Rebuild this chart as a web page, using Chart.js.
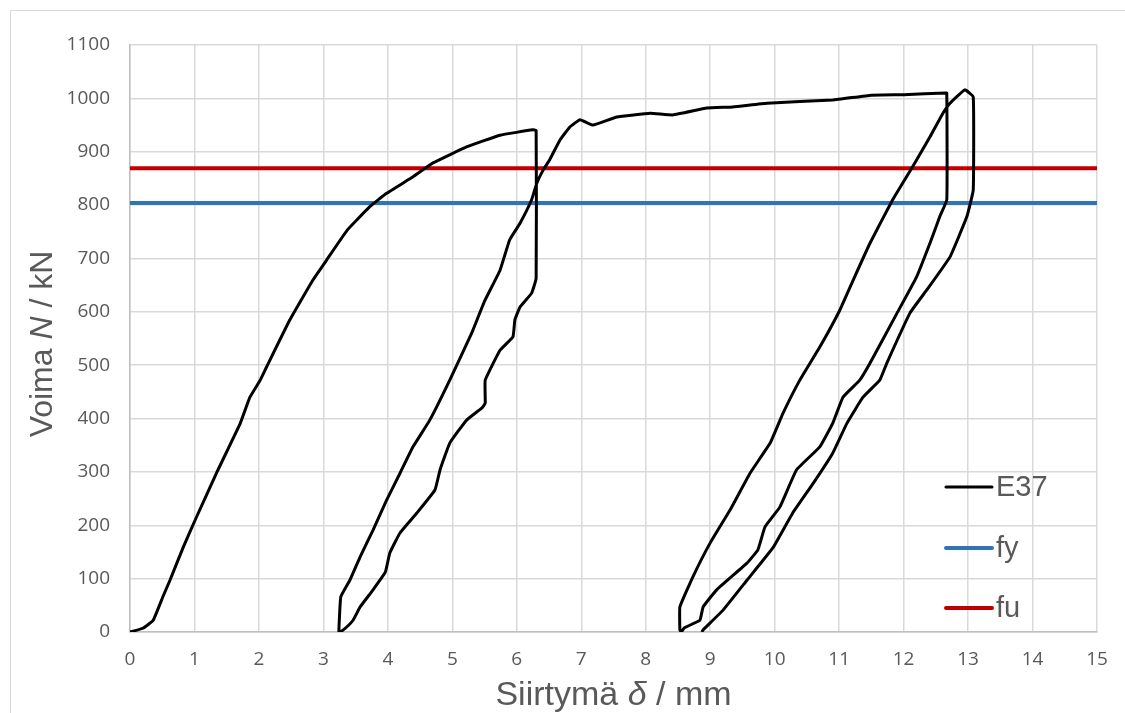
<!DOCTYPE html>
<html>
<head>
<meta charset="utf-8">
<script src="https://cdn.jsdelivr.net/npm/chart.js@4"></script>
<style>
  html, body { margin: 0; padding: 0; background: #fff; }
  #wrap { width: 1125px; height: 713px; }
</style>
</head>
<body>
<div id="wrap"><canvas id="kuvaaja" width="1125" height="713"></canvas></div>
<script>
'use strict';

// E37 koekappaleen voima-siirtymäkäyrä (luettu kuvasta)
const siirtyma = [
  0, 0.2, 0.36, 0.51, 0.62, 0.83, 1.03, 1.35, 1.71, 1.86, 2.02, 2.12, 2.48, 2.84, 3.05, 3.37, 3.72, 3.98, 4.39, 4.70, 5.22, 5.74, 6.25, 6.30,
  6.30, 6.23, 6.05, 5.97, 5.94, 5.74, 5.51, 5.51, 5.46, 5.22, 4.96, 4.81, 4.73, 4.45, 4.19, 4.03, 3.96, 3.77, 3.57, 3.46, 3.34, 3.26,
  3.24, 3.27, 3.41, 3.57, 3.77, 3.98, 4.19, 4.39, 4.65, 4.96, 5.30, 5.50, 5.74, 5.89, 6.05, 6.23, 6.31, 6.41, 6.51, 6.67, 6.82, 6.98, 7.18, 7.55, 8.07, 8.42, 8.95, 9.35, 9.88, 10.9, 11.5, 12.0, 12.65, 12.67,
  12.67, 12.56, 12.41, 12.20, 11.90, 11.48, 11.32, 11.06, 10.90, 10.70, 10.34, 10.08, 9.85, 9.74, 9.57, 9.10, 8.89, 8.84, 8.60, 8.55,
  8.53, 8.53, 8.73, 9.00, 9.31, 9.62, 9.93, 10.13, 10.39, 10.70, 11.01, 11.22, 11.48, 11.83, 12.14, 12.41, 12.61, 12.72, 12.95, 13.08,
  13.08, 12.98, 12.72, 12.36, 12.10, 11.74, 11.63, 11.37, 11.12, 10.90, 10.60, 10.28, 9.98, 9.57, 9.20, 8.89, 8.87
];
const voima = [
  0, 7, 22, 66, 97, 160, 215, 300, 391, 440, 472, 497, 585, 660, 697, 753, 797, 822, 853, 879, 909, 931, 941, 940,
  663, 635, 609, 585, 553, 528, 472, 429, 420, 397, 354, 304, 266, 223, 186, 148, 112, 79, 47, 22, 7, 0,
  0, 66, 97, 141, 191, 247, 298, 347, 397, 472, 560, 620, 678, 735, 766, 810, 841, 866, 885, 922, 946, 960, 950, 965, 972, 969, 982, 984, 991, 997, 1006, 1007, 1010, 1010,
  810, 778, 729, 665, 598, 504, 472, 440, 391, 347, 304, 234, 197, 154, 129, 79, 47, 22, 8, 0,
  4, 47, 103, 167, 229, 298, 354, 410, 472, 534, 603, 660, 729, 810, 872, 928, 972, 991, 1016, 1003,
  828, 778, 703, 641, 598, 504, 472, 440, 391, 335, 279, 223, 159, 97, 41, 4, 0
];

const fy = 804;
const fu = 869;
const xRaja = [0, 15];

const tekstiVari = '#595959';
const ruudukko = '#d9d9d9';

function pisteet(xs, ys) {
  return xs.map((x, i) => ({ x: x, y: ys[i] }));
}

// piirtää tekstin osista, joista osa kursiivilla
function osaTeksti(ctx, osat, koko, keskiX, y) {
  let leveys = 0;
  osat.forEach(o => { ctx.font = o[1] + ' ' + koko + 'px "Liberation Sans", Arial'; leveys += ctx.measureText(o[0]).width; });
  let x = keskiX - leveys / 2;
  osat.forEach(o => {
    ctx.font = o[1] + ' ' + koko + 'px "Liberation Sans", Arial';
    ctx.fillText(o[0], x, y);
    x += ctx.measureText(o[0]).width;
  });
}

// Kehys, akselien otsikot ja selite piirretään itse
const omaPiirto = {
  id: 'omaPiirto',
  afterDraw(chart) {
    const ctx = chart.ctx;
    const ca = chart.chartArea;
    ctx.save();

    ctx.strokeStyle = ruudukko;
    ctx.lineWidth = 1;
    ctx.strokeRect(10.5, 10.5, 1300, 900);

    ctx.fillStyle = tekstiVari;
    ctx.textBaseline = 'alphabetic';
    osaTeksti(ctx, [['Siirtymä ', 'normal'], ['δ', 'italic'], [' / mm', 'normal']], 34, (ca.left + ca.right) / 2, 705);

    ctx.save();
    ctx.translate(52, 344);
    ctx.rotate(-Math.PI / 2);
    osaTeksti(ctx, [['Voima ', 'normal'], ['N', 'italic'], [' / kN', 'normal']], 32, 0, 0);
    ctx.restore();

    // selite
    const rivit = [487, 548, 608];
    chart.data.datasets.forEach((ds, i) => {
      const y = rivit[i];
      ctx.strokeStyle = ds.borderColor;
      ctx.lineWidth = i === 0 ? 3 : 4;
      ctx.lineCap = 'round';
      ctx.beginPath();
      ctx.moveTo(946, y);
      ctx.lineTo(992, y);
      ctx.stroke();
      ctx.fillStyle = tekstiVari;
      ctx.font = '29px "Liberation Sans", Arial';
      ctx.textBaseline = 'middle';
      ctx.fillText(ds.label, 996, y + 1);
    });
    ctx.restore();
  }
};

new Chart(document.getElementById('kuvaaja'), {
  type: 'scatter',
  data: {
    datasets: [{
      label: 'E37',
      data: pisteet(siirtyma, voima),
      showLine: true,
      borderColor: '#000000',
      borderWidth: 3,
      pointRadius: 0,
      tension: 0.1
    }, {
      label: 'fy',
      data: pisteet(xRaja, [fy, fy]),
      showLine: true,
      borderColor: '#2e75b6',
      borderWidth: 4,
      pointRadius: 0
    }, {
      label: 'fu',
      data: pisteet(xRaja, [fu, fu]),
      showLine: true,
      borderColor: '#c00000',
      borderWidth: 4,
      pointRadius: 0
    }]
  },
  options: {
    responsive: false,
    animation: false,
    layout: { padding: { left: 0, right: 28, top: 45, bottom: 0 } },
    plugins: {
      legend: { display: false },
      tooltip: { enabled: false }
    },
    scales: {
      x: {
        type: 'linear',
        min: 0,
        max: 15,
        ticks: { stepSize: 1, color: tekstiVari, font: { family: '"Open Sans", sans-serif', size: 19 }, padding: 16, callback: v => String(v) },
        grid: { color: ruudukko, lineWidth: 1.5, drawTicks: false },
        border: { color: '#bfbfbf', width: 1.5 },
        afterFit(scale) { scale.height = 81; }
      },
      y: {
        min: 0,
        max: 1100,
        ticks: { stepSize: 100, color: tekstiVari, font: { family: '"Open Sans", sans-serif', size: 19 }, padding: 20, callback: v => String(v) },
        grid: { color: ruudukko, lineWidth: 1.5, drawTicks: false },
        border: { color: '#bfbfbf', width: 1.5 },
        afterFit(scale) { scale.width = 130; }
      }
    }
  },
  plugins: [omaPiirto]
});
</script>
</body>
</html>
